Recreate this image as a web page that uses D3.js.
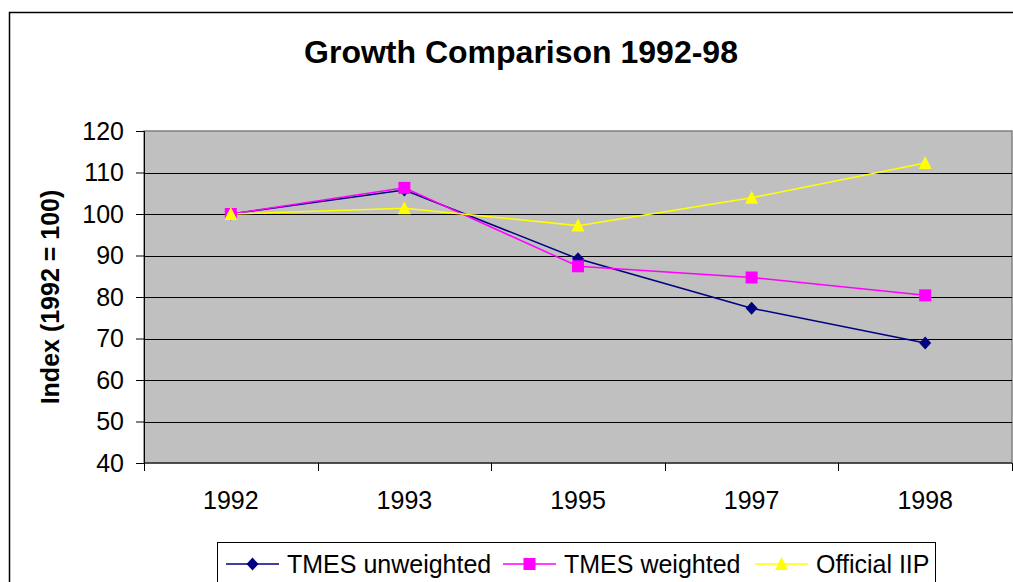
<!DOCTYPE html>
<html>
<head>
<meta charset="utf-8">
<script src="https://cdn.jsdelivr.net/npm/d3@7"></script>
<style>
  body { margin: 0; background: #fff; }
  svg { display: block; }
  svg text { font-family: "Liberation Sans", Arial, sans-serif; }
</style>
</head>
<body>
<div id="chart"></div>
<script>
// data
const years = ["1992", "1993", "1995", "1997", "1998"];
const tmesUnweighted = [100, 105.8, 89.2, 77.3, 68.9];
const tmesWeighted = [100, 106.3, 87.4, 84.7, 80.4];
const officialIIP = [100, 101.4, 97.2, 103.9, 112.3];
const yTicks = [40, 50, 60, 70, 80, 90, 100, 110, 120];
const seriesNames = ["TMES unweighted", "TMES weighted", "Official IIP"];

const width = 1013;
const height = 582;
const plot = { left: 144, right: 1012, top: 131, bottom: 463 };

const svg = d3
  .select("#chart")
  .append("svg")
  .attr("width", width)
  .attr("height", height);

// outer chart frame (runs off the picture on the right and bottom)
svg
  .append("rect")
  .attr("x", 9.5)
  .attr("y", 12.5)
  .attr("width", 1200)
  .attr("height", 800)
  .attr("fill", "#fff")
  .attr("stroke", "#000")
  .attr("stroke-width", 1.5);

// title
svg
  .append("text")
  .attr("x", 521)
  .attr("y", 63)
  .attr("text-anchor", "middle")
  .style("font-size", "32px")
  .style("font-weight", "bold")
  .text("Growth Comparison 1992-98");

const x = d3
  .scaleBand()
  .domain(years)
  .range([plot.left, plot.right]);

const y = d3
  .scaleLinear()
  .domain([40, 120])
  .range([plot.bottom, plot.top]);

// plot area
svg
  .append("rect")
  .attr("x", plot.left)
  .attr("y", plot.top)
  .attr("width", plot.right - plot.left)
  .attr("height", plot.bottom - plot.top)
  .attr("fill", "#c0c0c0")
  .attr("stroke", "#808080")
  .attr("stroke-width", 1.5);

// gridlines
svg
  .append("g")
  .selectAll("line")
  .data(yTicks.slice(1, -1))
  .enter()
  .append("line")
  .attr("x1", plot.left)
  .attr("x2", plot.right)
  .attr("y1", (d) => Math.round(y(d)) + 0.5)
  .attr("y2", (d) => Math.round(y(d)) + 0.5)
  .attr("stroke", "#000")
  .attr("stroke-width", 1);

// y axis
const yAxis = svg
  .append("g")
  .attr("transform", `translate(${plot.left},0)`)
  .call(d3.axisLeft(y).tickValues(yTicks).tickSize(8).tickPadding(12));
yAxis.attr("font-family", null).attr("font-size", null);
yAxis.select(".domain").attr("stroke", "#000");
yAxis.selectAll("text").style("font-size", "25px").attr("fill", "#000");

// x axis: ticks at the category boundaries
const xAxis = svg
  .append("g")
  .attr("transform", `translate(0,${plot.bottom})`);
xAxis
  .append("line")
  .attr("x1", plot.left)
  .attr("x2", plot.right)
  .attr("stroke", "#000");
const bounds = years.map((d) => x(d)).concat([x(years[years.length - 1]) + x.bandwidth()]);
xAxis
  .selectAll(".btick")
  .data(bounds)
  .enter()
  .append("line")
  .attr("class", "btick")
  .attr("x1", (d) => Math.round(d) + 0.5)
  .attr("x2", (d) => Math.round(d) + 0.5)
  .attr("y1", 0)
  .attr("y2", 8)
  .attr("stroke", "#000");
xAxis
  .selectAll(".xlab")
  .data(years)
  .enter()
  .append("text")
  .attr("class", "xlab")
  .attr("x", (d) => x(d) + x.bandwidth() / 2)
  .attr("y", 46)
  .attr("text-anchor", "middle")
  .style("font-size", "25px")
  .text((d) => d);

// y axis title
svg
  .append("text")
  .attr("transform", "translate(59,297) rotate(-90)")
  .attr("text-anchor", "middle")
  .style("font-size", "25px")
  .style("font-weight", "bold")
  .text("Index (1992 = 100)");

const series = [
  { name: seriesNames[0], values: tmesUnweighted, color: "#000080", marker: "M0,-6.5L6,0L0,6.5L-6,0Z" },
  { name: seriesNames[1], values: tmesWeighted, color: "#ff00ff", marker: "M-6,-6H6V6H-6Z" },
  { name: seriesNames[2], values: officialIIP, color: "#ffff00", marker: "M0,-7L6.5,6L-6.5,6Z" }
];

const line = d3
  .line()
  .x((d, i) => x(years[i]) + x.bandwidth() / 2)
  .y((d) => y(d));

series.forEach((s) => {
  svg
    .append("path")
    .datum(s.values)
    .attr("d", line)
    .attr("fill", "none")
    .attr("stroke", s.color)
    .attr("stroke-width", 1.5);
});

series.forEach((s) => {
  svg
    .append("g")
    .selectAll("path")
    .data(s.values)
    .enter()
    .append("path")
    .attr("transform", (d, i) => `translate(${x(years[i]) + x.bandwidth() / 2},${y(d)})`)
    .attr("d", s.marker)
    .attr("fill", s.color);
});

// legend
const legend = svg.append("g");
legend
  .append("rect")
  .attr("x", 217.5)
  .attr("y", 542.5)
  .attr("width", 718)
  .attr("height", 80)
  .attr("fill", "#fff")
  .attr("stroke", "#000");

const legendX = [226, 503, 755];
series.forEach((s, i) => {
  const g = legend.append("g").attr("transform", `translate(${legendX[i]},564)`);
  g.append("line")
    .attr("x1", 0)
    .attr("x2", 53)
    .attr("stroke", s.color)
    .attr("stroke-width", 1.5);
  g.append("path")
    .attr("transform", "translate(26.5,0)")
    .attr("d", s.marker)
    .attr("fill", s.color);
  g.append("text")
    .attr("x", 61)
    .attr("y", 9)
    .style("font-size", "25px")
    .text(s.name);
});
</script>
</body>
</html>
